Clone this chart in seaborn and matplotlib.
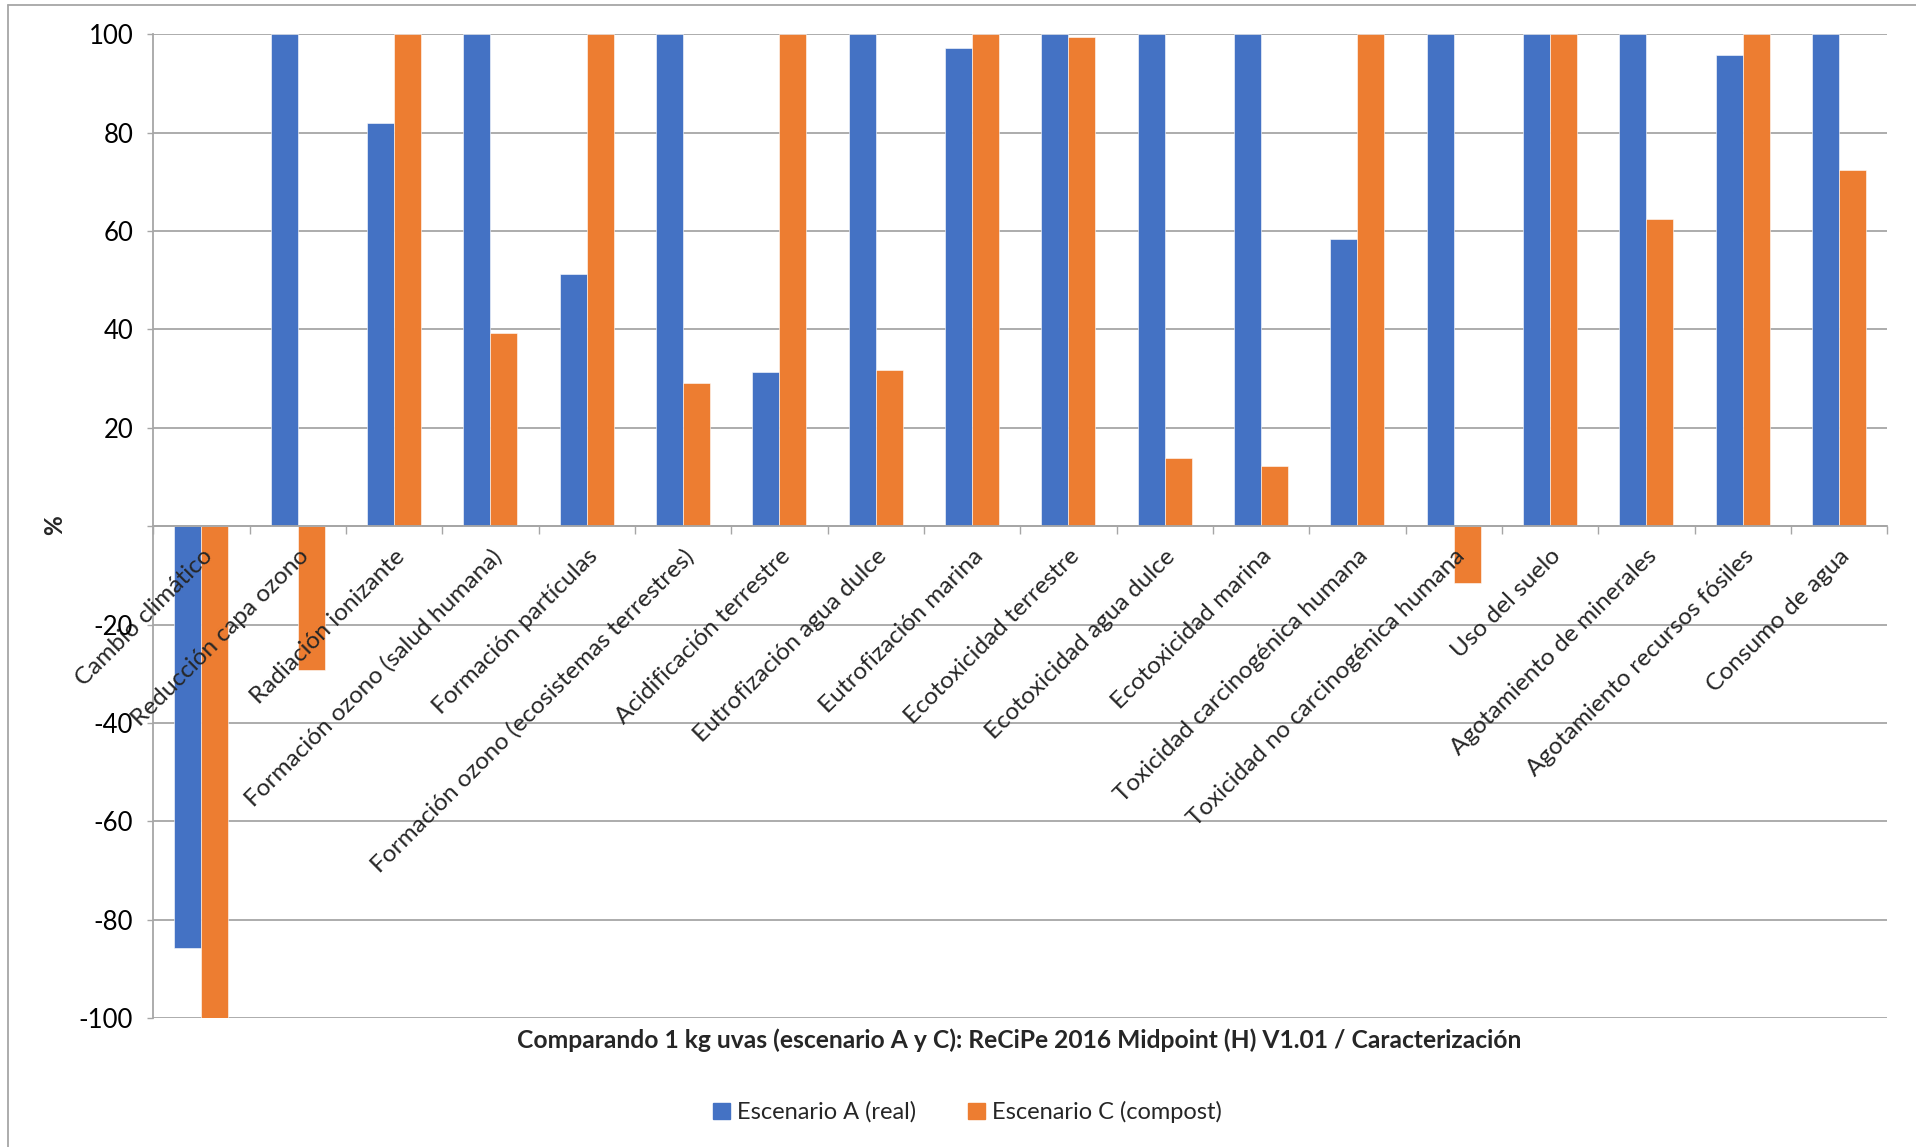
import numpy as np
import pandas as pd
import matplotlib
matplotlib.use("Agg")
import matplotlib.pyplot as plt
from matplotlib.lines import Line2D
import seaborn as sns

# categorías de impacto (ReCiPe 2016 Midpoint)
categorias = [
    "Cambio climático",
    "Reducción capa ozono",
    "Radiación ionizante",
    "Formación ozono (salud humana)",
    "Formación partículas",
    "Formación ozono (ecosistemas terrestres)",
    "Acidificación terrestre",
    "Eutrofización agua dulce",
    "Eutrofización marina",
    "Ecotoxicidad terrestre",
    "Ecotoxicidad agua dulce",
    "Ecotoxicidad marina",
    "Toxicidad carcinogénica humana",
    "Toxicidad no carcinogénica humana",
    "Uso del suelo",
    "Agotamiento de minerales",
    "Agotamiento recursos fósiles",
    "Consumo de agua",
]

# valores en %
escenario_a = [-85.7, 100, 81.9, 100, 51.2, 100, 31.3, 100, 97.3, 100,
               100, 100, 58.3, 100, 100, 100, 95.8, 100]
escenario_c = [-100, -29.2, 100, 39.3, 100, 29.2, 100, 31.8, 100, 99.5,
               13.9, 12.3, 100, -11.6, 100, 62.4, 100, 72.4]

series = ["Escenario A (real)", "Escenario C (compost)"]
colores = ["#4472C4", "#ED7D31"]
yticks = [-100, -80, -60, -40, -20, 0, 20, 40, 60, 80, 100]
titulo = "Comparando 1 kg uvas (escenario A y C): ReCiPe 2016 Midpoint (H) V1.01 / Caracterización"

GRIS = "#a6a6a6"


def main():
    sns.set_style("white")
    plt.rcParams["font.family"] = ["Lato", "DejaVu Sans"]

    df = pd.DataFrame({
        "categoria": categorias * 2,
        "valor": escenario_a + escenario_c,
        "serie": [series[0]] * len(categorias) + [series[1]] * len(categorias),
    })

    fig = plt.figure(figsize=(19.16, 11.47), dpi=100)
    ax = fig.add_axes([0.080, 0.1125, 0.905, 0.8575])

    # líneas de cuadrícula detrás de las barras
    for v in yticks:
        ax.axhline(v, color=GRIS, linewidth=1.3, zorder=0)

    sns.barplot(data=df, x="categoria", y="valor", hue="serie", order=categorias,
                hue_order=series, palette=colores, saturation=1, width=0.56,
                edgecolor="white", linewidth=0.4, ax=ax, legend=False)

    n = len(categorias)
    ax.set_xlim(-0.5, n - 0.5)
    ax.set_ylim(-100, 100)
    ax.grid(False)
    ax.set_axisbelow(False)  # etiquetas por encima de las barras

    # eje y
    ax.set_yticks(yticks)
    ax.set_yticklabels(["" if v == 0 else str(v) for v in yticks])
    ax.tick_params(axis="y", direction="out", length=4.5, width=1, color=GRIS,
                   labelsize=18.5, pad=10, labelcolor="black", left=True)

    # eje x cruzando en 0, marcas entre categorías
    ax.spines["top"].set_visible(False)
    ax.spines["right"].set_visible(False)
    ax.spines["left"].set_color(GRIS)
    ax.spines["left"].set_linewidth(1.3)
    ax.spines["bottom"].set_position(("data", 0))
    ax.spines["bottom"].set_color(GRIS)
    ax.spines["bottom"].set_linewidth(1.3)

    ax.set_xticks(np.arange(-0.5, n, 1.0))
    ax.set_xticklabels([])
    ax.set_xticks(np.arange(n), minor=True)
    ax.set_xticklabels(categorias, minor=True, rotation=45, ha="right", va="top",
                       rotation_mode="anchor", fontsize=17.6)
    ax.tick_params(axis="x", which="major", direction="out", length=5.5, width=1,
                   color=GRIS, bottom=True)
    ax.tick_params(axis="x", which="minor", length=0, pad=14)
    ax.set_xlabel("")
    ax.set_ylabel("")

    fig.text(0.0287, 0.542, "%", rotation=90, ha="center", va="center",
             fontsize=17.5, fontweight="bold")
    fig.text(0.532, 0.093, titulo, ha="center", va="center",
             fontsize=17.7, fontweight="bold")

    handles = [plt.Rectangle((0, 0), 1, 1, color=c) for c in colores]
    fig.legend(handles, series, loc="center", bbox_to_anchor=(0.505, 0.0305),
               ncol=2, frameon=False, fontsize=17, handlelength=0.7,
               handleheight=0.7, handletextpad=0.3, columnspacing=2.2)

    # borde del gráfico
    fig.add_artist(Line2D([0.004, 0.004], [0.0, 0.996], transform=fig.transFigure,
                          color=GRIS, linewidth=1.3))
    fig.add_artist(Line2D([0.004, 1.0], [0.996, 0.996], transform=fig.transFigure,
                          color=GRIS, linewidth=1.3))

    fig.savefig("out.png", dpi=100)


if __name__ == "__main__":
    main()
